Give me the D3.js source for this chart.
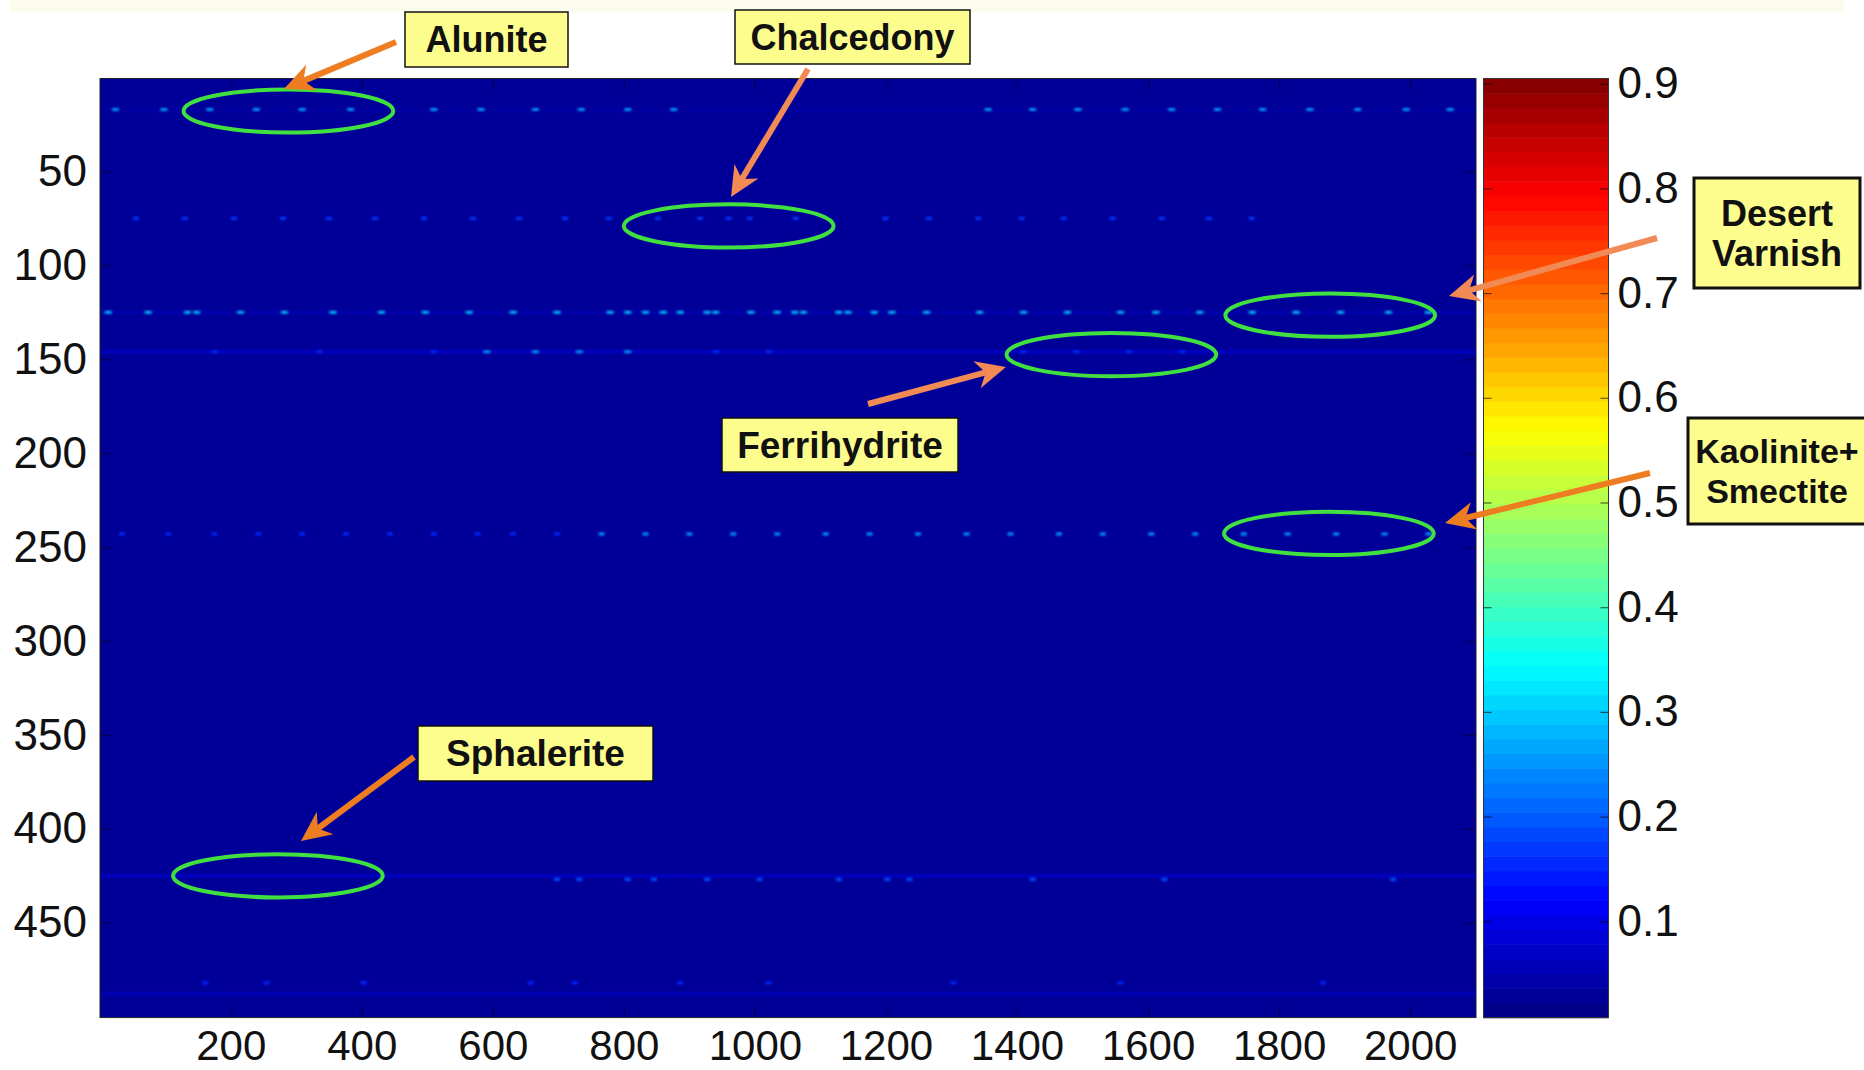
<!DOCTYPE html>
<html>
<head>
<meta charset="utf-8">
<script src="https://cdn.jsdelivr.net/npm/d3@7"></script>
<style>
  html, body { margin: 0; padding: 0; background: #fff; }
  svg { display: block; font-family: "Liberation Sans", Arial, sans-serif; }
</style>
</head>
<body>
<svg id="chart"></svg>
<script>
// axis ticks
var xTicks = [200, 400, 600, 800, 1000, 1200, 1400, 1600, 1800, 2000];
var yTicks = [50, 100, 150, 200, 250, 300, 350, 400, 450];
var cTicks = [0.1, 0.2, 0.3, 0.4, 0.5, 0.6, 0.7, 0.8, 0.9];

// image size (columns x rows) and colour limits
var nCols = 2100;
var nRows = 500;
var cMin = 0.008, cMax = 0.905;
var bgValue = 0.03;

// faint full-width rows
var bandRows = [17, 125, 146, 425, 488];
var bandValues = [0.04, 0.06, 0.08, 0.08, 0.07];

// bright speckles, one list of columns per row
var spotRows = [17, 75, 125, 146, 146, 243, 243, 427, 482];
var spotValues = [0.26, 0.17, 0.28, 0.25, 0.16, 0.16, 0.25, 0.19, 0.15];
var spotCols = [
    [24, 98, 168, 239, 309, 383, 510, 582, 665, 735, 806, 876, 1356, 1424, 1493, 1565, 1636, 1706, 1775, 1847, 1920, 1994, 2061],
    [55, 130, 205, 280, 350, 420, 495, 570, 640, 710, 777, 852, 916, 960, 992, 1062, 1199, 1266, 1341, 1407, 1471, 1546, 1621, 1693, 1758],
    [13, 74, 134, 148, 215, 282, 356, 430, 497, 564, 631, 698, 779, 806, 833, 860, 886, 927, 940, 994, 1034, 1061, 1074, 1128, 1142, 1182, 1209, 1262, 1343, 1410, 1477, 1558, 1612, 1679, 1759, 1826, 1894, 1967, 2028],
    [591, 665, 732, 806],
    [175, 336, 510, 940, 1021, 1410, 1491, 1571, 1652],
    [34, 105, 175, 242, 309, 376, 443, 510, 577, 631, 698],
    [766, 833, 900, 967, 1034, 1108, 1175, 1249, 1323, 1390, 1464, 1531, 1605, 1672, 1746, 1813, 1887, 1961, 2028],
    [698, 732, 806, 846, 927, 1007, 1128, 1202, 1236, 1424, 1625, 1974],
    [161, 255, 403, 658, 725, 886, 1021, 1303, 1558, 1867]
];

// annotations: ellipse centre in data units, label box and arrow in pixels
var notes = [
    {lines: ["Alunite"], col: 288, row: 17.8, box: [405, 12, 163, 55], from: [396, 42], to: [284, 89], stroke: "#ee7d22", bw: 1.5, fs: 36},
    {lines: ["Chalcedony"], col: 960, row: 79, box: [735, 10, 235, 54], from: [808, 69], to: [731, 197], stroke: "#f28a55", bw: 1.5, fs: 36},
    {lines: ["Desert", "Varnish"], col: 1878, row: 126.5, box: [1694, 178, 166, 110], from: [1657, 238], to: [1449, 296], stroke: "#f28a55", bw: 3, fs: 36},
    {lines: ["Ferrihydrite"], col: 1544, row: 147.5, box: [722, 418, 236, 54], from: [868, 404], to: [1006, 367], stroke: "#f28a55", bw: 1.5, fs: 37},
    {lines: ["Kaolinite+", "Smectite"], col: 1876, row: 242.7, box: [1688, 418, 178, 106], from: [1650, 473], to: [1445, 523], stroke: "#ee7d22", bw: 3, fs: 34},
    {lines: ["Sphalerite"], col: 272, row: 425, box: [418, 726, 235, 55], from: [414, 757], to: [301, 841], stroke: "#ee7d22", bw: 1.5, fs: 37}
];

var W = 1864, H = 1070;
var plot = {left: 100, right: 1476, top: 78.5, bottom: 1017.6};
var bar = {left: 1483.5, right: 1608.5};

var svg = d3.select("#chart").attr("width", W).attr("height", H);

var x = d3.scaleLinear().domain([0.5, nCols + 0.5]).range([plot.left, plot.right]);
var y = d3.scaleLinear().domain([0.5, nRows + 0.5]).range([plot.top, plot.bottom]);
var cy = d3.scaleLinear().domain([cMin, cMax]).range([plot.bottom, plot.top]);

// MATLAB jet, 64 levels
var jet = d3.scaleLinear()
    .domain([0, 1/8, 3/8, 5/8, 7/8, 1])
    .range(["#000080", "#0000ff", "#00ffff", "#ffff00", "#ff0000", "#800000"]);
function color(v) {
    var t = (v - cMin) / (cMax - cMin);
    t = Math.max(0, Math.min(1, t));
    var k = Math.min(63, Math.floor(t * 64));
    return jet((k + 0.5) / 64);
}

var defs = svg.append("defs");
defs.append("filter").attr("id", "soft")
    .attr("x", "-5%").attr("y", "-50%").attr("width", "110%").attr("height", "200%")
    .append("feGaussianBlur").attr("stdDeviation", 1.1);
defs.append("clipPath").attr("id", "plotclip").append("rect")
    .attr("x", plot.left).attr("y", plot.top)
    .attr("width", plot.right - plot.left).attr("height", plot.bottom - plot.top);

// pale strip along the top of the picture
svg.append("rect").attr("x", 10).attr("y", 0).attr("width", W - 30).attr("height", 12)
    .attr("fill", "#fcfcec");

// heat map
var img = svg.append("g").attr("clip-path", "url(#plotclip)");
img.append("rect")
    .attr("x", x(0.5)).attr("y", y(0.5))
    .attr("width", x(nCols + 0.5) - x(0.5)).attr("height", y(nRows + 0.5) - y(0.5))
    .attr("fill", color(bgValue));

var soft = img.append("g").attr("filter", "url(#soft)");
soft.selectAll("rect.band")
    .data(bandRows.map(function(r, i) { return {row: r, v: bandValues[i]}; }))
    .join("rect").attr("class", "band")
    .attr("x", x(0.5)).attr("width", x(nCols + 0.5) - x(0.5))
    .attr("y", function(d) { return y(d.row - 0.6); })
    .attr("height", function(d) { return y(d.row + 0.6) - y(d.row - 0.6); })
    .attr("fill", function(d) { return color(d.v); });

var spots = [];
spotRows.forEach(function(r, i) {
    spotCols[i].forEach(function(c) { spots.push({row: r, col: c, v: spotValues[i]}); });
});
soft.selectAll("rect.spot")
    .data(spots)
    .join("rect").attr("class", "spot")
    .attr("x", function(d) { return x(d.col - 4.5); })
    .attr("width", function(d) { return x(d.col + 4.5) - x(d.col - 4.5); })
    .attr("y", function(d) { return y(d.row - 0.8); })
    .attr("height", function(d) { return y(d.row + 0.8) - y(d.row - 0.8); })
    .attr("fill", function(d) { return color(d.v); });

// axes of the image
var fs = 44;
var gx = svg.append("g").attr("transform", "translate(0," + plot.bottom + ")")
    .call(d3.axisBottom(x).tickValues(xTicks).tickSize(-11).tickPadding(13).tickFormat(d3.format("d")));
var gxTop = svg.append("g").attr("transform", "translate(0," + plot.top + ")")
    .call(d3.axisTop(x).tickValues(xTicks).tickSize(-11).tickFormat(""));
var gy = svg.append("g").attr("transform", "translate(" + plot.left + ",0)")
    .call(d3.axisLeft(y).tickValues(yTicks).tickSize(-11).tickPadding(13));
var gyRight = svg.append("g").attr("transform", "translate(" + plot.right + ",0)")
    .call(d3.axisRight(y).tickValues(yTicks).tickSize(-11).tickFormat(""));

[gx, gxTop, gy, gyRight].forEach(function(g) {
    g.select(".domain").remove();
    g.selectAll(".tick line").attr("stroke", "#000").attr("stroke-opacity", 0.45).attr("stroke-width", 1.2);
    g.selectAll("text").attr("font-size", fs).attr("fill", "#111").attr("font-family", null);
});
gx.selectAll("text").attr("font-size", 42);

svg.append("rect")
    .attr("x", plot.left).attr("y", plot.top)
    .attr("width", plot.right - plot.left).attr("height", plot.bottom - plot.top)
    .attr("fill", "none").attr("stroke", "#222").attr("stroke-width", 1);

// colour bar
var levels = d3.range(64);
svg.append("g").selectAll("rect")
    .data(levels)
    .join("rect")
    .attr("x", bar.left).attr("width", bar.right - bar.left)
    .attr("y", function(k) { return cy(cMin + (k + 1) / 64 * (cMax - cMin)); })
    .attr("height", function(k) { return cy(cMin + k / 64 * (cMax - cMin)) - cy(cMin + (k + 1) / 64 * (cMax - cMin)) + 0.6; })
    .attr("fill", function(k) { return jet((k + 0.5) / 64); });

var gc = svg.append("g").attr("transform", "translate(" + bar.right + ",0)")
    .call(d3.axisRight(cy).tickValues(cTicks).tickSize(-8).tickPadding(9).tickFormat(d3.format(".1f")));
var gcLeft = svg.append("g").attr("transform", "translate(" + bar.left + ",0)")
    .call(d3.axisLeft(cy).tickValues(cTicks).tickSize(-8).tickFormat(""));
[gc, gcLeft].forEach(function(g) {
    g.select(".domain").remove();
    g.selectAll(".tick line").attr("stroke", "#000").attr("stroke-opacity", 0.6).attr("stroke-width", 1.2);
    g.selectAll("text").attr("font-size", fs).attr("fill", "#111").attr("font-family", null);
});
svg.append("rect")
    .attr("x", bar.left).attr("y", plot.top)
    .attr("width", bar.right - bar.left).attr("height", plot.bottom - plot.top)
    .attr("fill", "none").attr("stroke", "#333").attr("stroke-width", 1);

// annotations
var ann = svg.append("g");
ann.selectAll("ellipse")
    .data(notes)
    .join("ellipse")
    .attr("cx", function(d) { return x(d.col); })
    .attr("cy", function(d) { return y(d.row); })
    .attr("rx", function(d) { return x(d.col + 160) - x(d.col); })
    .attr("ry", function(d) { return y(d.row + 11.5) - y(d.row); })
    .attr("fill", "none").attr("stroke", "#3fe040").attr("stroke-width", 4);

notes.forEach(function(d) {
    var dx = d.to[0] - d.from[0], dy = d.to[1] - d.from[1];
    var len = Math.sqrt(dx * dx + dy * dy);
    var ux = dx / len, uy = dy / len;
    var head = 30, half = 14, notch = 9;
    var bx = d.to[0] - ux * head, by = d.to[1] - uy * head;
    ann.append("line")
        .attr("x1", d.from[0]).attr("y1", d.from[1])
        .attr("x2", d.to[0] - ux * (head - notch)).attr("y2", d.to[1] - uy * (head - notch))
        .attr("stroke", d.stroke).attr("stroke-width", 6);
    var pts = [
        [d.to[0], d.to[1]],
        [bx - uy * half, by + ux * half],
        [d.to[0] - ux * (head - notch), d.to[1] - uy * (head - notch)],
        [bx + uy * half, by - ux * half]
    ];
    ann.append("path").attr("d", "M" + pts.join("L") + "Z").attr("fill", d.stroke);

    var b = d.box;
    ann.append("rect")
        .attr("x", b[0]).attr("y", b[1]).attr("width", b[2]).attr("height", b[3])
        .attr("fill", "#fdfd8e").attr("stroke", "#111").attr("stroke-width", d.bw);
    var lh = 40;
    var y0 = b[1] + b[3] / 2 - (d.lines.length - 1) * lh / 2;
    d.lines.forEach(function(t, j) {
        ann.append("text")
            .attr("x", b[0] + b[2] / 2).attr("y", y0 + j * lh)
            .attr("text-anchor", "middle").attr("dominant-baseline", "central")
            .attr("font-size", d.fs).attr("font-weight", "bold").attr("fill", "#111")
            .text(t);
    });
});
</script>
</body>
</html>
